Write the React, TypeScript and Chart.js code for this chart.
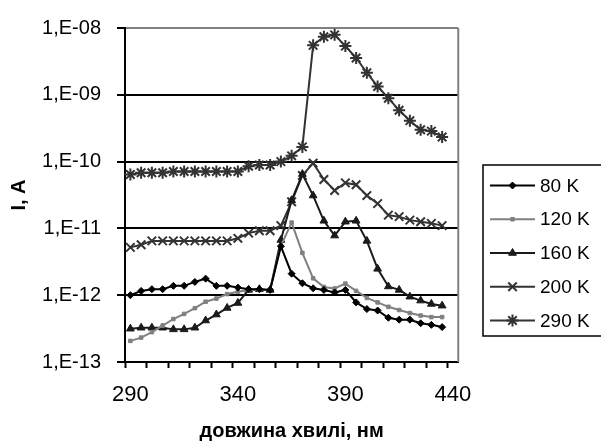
import React, { useEffect, useRef } from 'react';
import { Chart, registerables } from 'chart.js';

Chart.register(...registerables);

// ---- data ----
const wavelengths = [290, 295, 300, 305, 310, 315, 320, 325, 330, 335, 340, 345, 350, 355, 360, 365, 370, 375, 380, 385, 390, 395, 400, 405, 410, 415, 420, 425, 430, 435, 440];
const xTickLabels = ['290', '340', '390', '440'];
const yTickValues = [1e-13, 1e-12, 1e-11, 1e-10, 1e-9, 1e-8];
const yTickLabels = ['1,E-13', '1,E-12', '1,E-11', '1,E-10', '1,E-09', '1,E-08'];
const seriesNames = ['80 K', '120 K', '160 K', '200 K', '290 K'];

const current80K = [1.0e-12, 1.16e-12, 1.23e-12, 1.23e-12, 1.38e-12, 1.38e-12, 1.58e-12, 1.77e-12, 1.38e-12, 1.38e-12, 1.3e-12, 1.23e-12, 1.23e-12, 1.2e-12, 5.4e-12, 2.1e-12, 1.51e-12, 1.27e-12, 1.2e-12, 1.1e-12, 1.2e-12, 7.8e-13, 6.2e-13, 5.9e-13, 4.6e-13, 4.3e-13, 4.3e-13, 3.8e-13, 3.6e-13, 3.33e-13];
const current120K = [2.07e-13, 2.32e-13, 2.8e-13, 3.5e-13, 4.4e-13, 5.25e-13, 6.4e-13, 8.0e-13, 8.9e-13, 1.04e-12, 1.13e-12, 1.2e-12, 1.2e-12, 1.2e-12, 5.5e-12, 1.22e-11, 4.3e-12, 1.79e-12, 1.33e-12, 1.26e-12, 1.49e-12, 1.16e-12, 9.1e-13, 7.8e-13, 6.7e-13, 6.0e-13, 5.4e-13, 4.96e-13, 4.7e-13, 4.7e-13];
const current160K = [3.15e-13, 3.26e-13, 3.26e-13, 3.26e-13, 3.08e-13, 3.08e-13, 3.26e-13, 4.18e-13, 5.13e-13, 6.44e-13, 7.64e-13, 1.2e-12, 1.23e-12, 1.2e-12, 6.7e-12, 2.64e-11, 6.5e-11, 3.1e-11, 1.3e-11, 7.8e-12, 1.26e-11, 1.3e-11, 6.5e-12, 2.48e-12, 1.35e-12, 1.2e-12, 9.5e-13, 8.3e-13, 7.4e-13, 6.97e-13];
const current200K = [5.2e-12, 5.7e-12, 6.5e-12, 6.5e-12, 6.5e-12, 6.5e-12, 6.5e-12, 6.5e-12, 6.5e-12, 6.5e-12, 7.1e-12, 8.5e-12, 9.2e-12, 9.2e-12, 1.1e-11, 2.5e-11, 6.2e-11, 9.5e-11, 5.4e-11, 3.7e-11, 4.8e-11, 4.5e-11, 3.1e-11, 2.35e-11, 1.58e-11, 1.5e-11, 1.33e-11, 1.26e-11, 1.19e-11, 1.1e-11];
const current290K = [6.4e-11, 6.8e-11, 6.8e-11, 6.8e-11, 7.1e-11, 7.1e-11, 7.1e-11, 7.1e-11, 7.1e-11, 7.1e-11, 7.1e-11, 8.5e-11, 8.9e-11, 8.9e-11, 1.0e-10, 1.22e-10, 1.66e-10, 5.5e-9, 7.4e-9, 7.9e-9, 5.36e-9, 3.56e-9, 2.14e-9, 1.33e-9, 8.9e-10, 5.86e-10, 4.1e-10, 3.0e-10, 2.86e-10, 2.34e-10];

const xTitle = 'довжина хвилі, нм';
const yTitle = 'I, A';

// ---- styles ----
const FONT = '"Liberation Sans", Arial, sans-serif';
const styles = [
  { color: '#000000', point: 'rectRot', r: 3.5, pw: 1 },
  { color: '#808080', point: 'rect', r: 2.5, pw: 1 },
  { color: '#1a1a1a', point: 'triangle', r: 4.5, pw: 1 },
  { color: '#333333', point: 'crossRot', r: 6, pw: 2 },
  { color: '#333333', point: 'star', r: 6, pw: 2 },
];
const seriesData = [current80K, current120K, current160K, current200K, current290K];

function drawMarker(ctx: CanvasRenderingContext2D, style: string, x: number, y: number, r: number, color: string, pw: number) {
  ctx.save();
  ctx.fillStyle = color;
  ctx.strokeStyle = color;
  ctx.lineWidth = pw;
  ctx.beginPath();
  if (style === 'rectRot') {
    ctx.moveTo(x, y - r); ctx.lineTo(x + r, y); ctx.lineTo(x, y + r); ctx.lineTo(x - r, y); ctx.closePath();
    ctx.fill(); ctx.stroke();
  } else if (style === 'rect') {
    const s = r * Math.SQRT1_2;
    ctx.rect(x - s, y - s, 2 * s, 2 * s); ctx.fill(); ctx.stroke();
  } else if (style === 'triangle') {
    ctx.moveTo(x, y - r); ctx.lineTo(x + r * 0.866, y + r * 0.5); ctx.lineTo(x - r * 0.866, y + r * 0.5); ctx.closePath();
    ctx.fill(); ctx.stroke();
  } else {
    const d = r * Math.SQRT1_2;
    ctx.moveTo(x - d, y - d); ctx.lineTo(x + d, y + d);
    ctx.moveTo(x + d, y - d); ctx.lineTo(x - d, y + d);
    if (style === 'star') {
      ctx.moveTo(x, y - r); ctx.lineTo(x, y + r);
      ctx.moveTo(x - r, y); ctx.lineTo(x + r, y);
    }
    ctx.stroke();
  }
  ctx.restore();
}

const framePlugin = {
  id: 'frameRight',
  beforeDatasetsDraw(chart: any) {
    const { ctx, chartArea } = chart;
    ctx.save();
    ctx.strokeStyle = '#808080';
    ctx.lineWidth = 2;
    ctx.beginPath();
    ctx.moveTo(chartArea.right, chartArea.top);
    ctx.lineTo(chartArea.right, chartArea.bottom);
    ctx.stroke();
    ctx.restore();
  },
};

const legendPlugin = {
  id: 'boxLegend',
  afterDraw(chart: any) {
    const { ctx } = chart;
    const lx = 483, ly = 165, lw = 140, lh = 171;
    ctx.save();
    ctx.fillStyle = '#ffffff';
    ctx.fillRect(lx, ly, lw, lh);
    ctx.strokeStyle = '#000000';
    ctx.lineWidth = 1.5;
    ctx.strokeRect(lx, ly, lw, lh);
    ctx.font = `19px ${FONT}`;
    ctx.textBaseline = 'middle';
    ctx.textAlign = 'left';
    seriesNames.forEach((name, k) => {
      const y = 185.5 + k * 33.75;
      const st = styles[k];
      ctx.strokeStyle = st.color;
      ctx.lineWidth = 2;
      ctx.beginPath();
      ctx.moveTo(490, y);
      ctx.lineTo(535, y);
      ctx.stroke();
      drawMarker(ctx, st.point, 512.5, y, st.r, st.color, st.pw);
      ctx.fillStyle = '#000000';
      ctx.fillText(name, 540, y + 1);
    });
    ctx.restore();
  },
};

export default function App() {
  const ref = useRef<HTMLCanvasElement | null>(null);
  useEffect(() => {
    document.body.style.margin = '0';
    const canvas = ref.current;
    if (!canvas) return;
    const chart = new Chart(canvas, {
      type: 'line',
      data: {
        labels: wavelengths.map(String),
        datasets: seriesNames.map((name, k) => ({
          label: name,
          data: seriesData[k],
          borderColor: styles[k].color,
          backgroundColor: styles[k].color,
          borderWidth: 2,
          pointStyle: styles[k].point as any,
          pointRadius: styles[k].r,
          pointBorderWidth: styles[k].pw,
          pointBackgroundColor: styles[k].color,
          pointBorderColor: styles[k].color,
          tension: 0,
          fill: false,
        })),
      },
      options: {
        animation: false,
        responsive: false,
        devicePixelRatio: 1,
        layout: { padding: { left: 0, right: 142.75, top: 24, bottom: 0 } },
        plugins: {
          legend: { display: false },
          tooltip: { enabled: false },
        },
        scales: {
          x: {
            type: 'category',
            offset: true,
            grid: {
              offset: true,
              drawOnChartArea: false,
              drawTicks: true,
              tickLength: 6,
              tickWidth: 2,
              tickColor: (c: any) => (typeof c.index === 'number' && c.index % 2 === 0 ? '#000000' : 'rgba(0,0,0,0)'),
            },
            border: { display: true, color: '#000000', width: 2 },
            ticks: {
              autoSkip: false,
              maxRotation: 0,
              minRotation: 0,
              padding: 14,
              color: '#000000',
              font: { family: FONT, size: 22 },
              callback: (v: any, i: number) => {
                const lab = wavelengths[i] !== undefined ? String(wavelengths[i]) : '';
                return xTickLabels.includes(lab) ? lab : '';
              },
            },
            title: {
              display: true,
              text: xTitle,
              color: '#000000',
              font: { family: FONT, size: 20, weight: 'bold' },
              padding: { top: 0, bottom: 3 },
            },
            afterFit: (s: any) => { s.height = 84; },
          },
          y: {
            type: 'logarithmic',
            min: 1e-13,
            max: 1e-8,
            afterBuildTicks: (s: any) => { s.ticks = yTickValues.map((v) => ({ value: v })); },
            grid: {
              color: (c: any) => (c.tick && c.tick.value >= 1e-8 ? '#808080' : '#000000'),
              lineWidth: 2,
              drawTicks: true,
              tickLength: 8,
              tickColor: '#000000',
              tickWidth: 2,
            },
            border: { display: true, color: '#000000', width: 2 },
            ticks: {
              padding: 16,
              color: '#000000',
              font: { family: FONT, size: 20 },
              callback: (v: any) => {
                const idx = yTickValues.findIndex((t) => Math.abs(Math.log10(t) - Math.log10(Number(v))) < 1e-6);
                return idx >= 0 ? yTickLabels[idx] : '';
              },
            },
            title: {
              display: true,
              text: yTitle,
              color: '#000000',
              font: { family: FONT, size: 20, weight: 'bold' },
              padding: { top: 7, bottom: 0 },
            },
            afterFit: (s: any) => { s.width = 125; },
          },
        },
      },
      plugins: [framePlugin, legendPlugin],
    } as any);
    return () => chart.destroy();
  }, []);
  return <canvas ref={ref} width={601} height={446} style={{ display: 'block' }} />;
}
